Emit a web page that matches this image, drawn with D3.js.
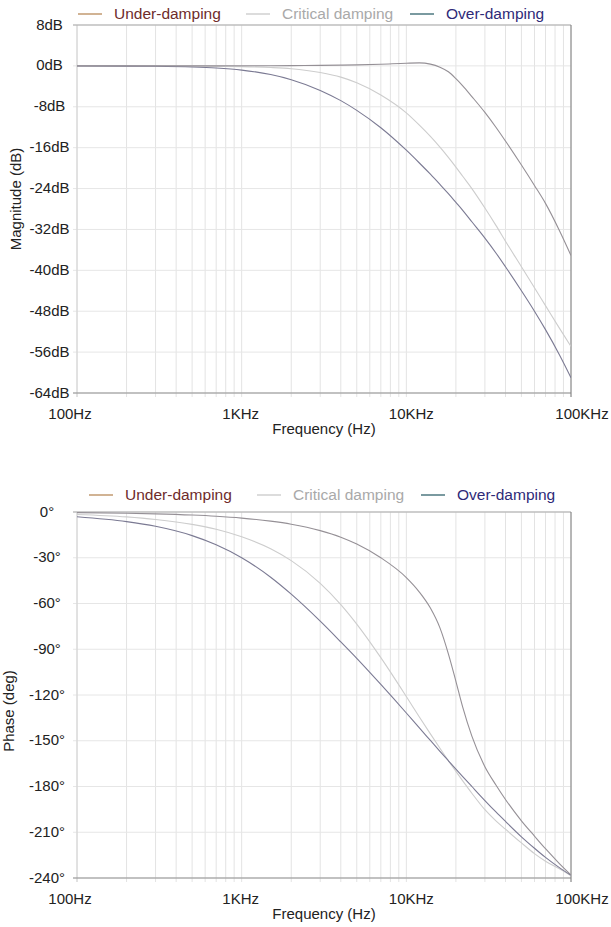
<!DOCTYPE html>
<meta charset="utf-8">
<script src="https://d3js.org/d3.v7.min.js"></script>
<style>
  body { margin: 0; background: #fff; }
  svg text { font-family: "Liberation Sans", Arial, sans-serif; }
</style>
<div id="bode"></div>
<script>
  var freqs = [100, 200, 300, 500, 700, 1000, 1500, 2000, 3000, 4000, 5000, 7000, 10000, 12000,
    14000, 16000, 18000, 20000, 22000, 25000, 30000, 35000, 40000, 50000, 60000, 70000, 85000, 100000];

  // magnitude (dB)
  var magUnder = [0, 0, 0, 0, 0.01, 0.02, 0.04, 0.06, 0.1, 0.15, 0.2, 0.33, 0.52, 0.58,
    0.35, -0.25, -1.15, -2.5, -3.9, -6.0, -9.1, -12.0, -14.7, -19.4, -23.4, -26.9, -32.2, -37.1];
  var magCritical = [0, -0.01, -0.01, -0.03, -0.07, -0.14, -0.32, -0.56, -1.3, -2.2, -3.3, -5.7, -9.2, -11.6,
    -13.8, -15.9, -17.9, -19.8, -21.6, -24.0, -27.8, -31.2, -34.3, -39.3, -43.4, -46.9, -51.3, -54.9];
  var magOver = [-0.01, -0.04, -0.08, -0.22, -0.42, -0.82, -1.7, -2.7, -4.8, -6.8, -8.7, -12.1, -16.5, -19.0,
    -21.2, -23.2, -25.0, -26.7, -28.25, -30.5, -33.7, -36.6, -39.3, -44.0, -48.0, -51.6, -56.5, -61.0];

  // phase (deg)
  var phaseUnder = [-0.4, -0.8, -1.2, -2.0, -2.8, -4.0, -6.0, -8.0, -12.2, -16.5, -21, -30, -43, -52.5,
    -63, -76, -93, -111, -128, -147, -167, -179, -188.5, -202.5, -212.5, -220.8, -230.5, -238];
  var phaseCritical = [-1.6, -3.2, -4.9, -8.1, -11.3, -16.2, -24.1, -31.9, -46.8, -60.7, -73.5, -95.5, -121, -134.4,
    -145.5, -154.9, -163.1, -170.1, -176.3, -184.4, -195.2, -202.5, -208, -217, -224, -229, -234, -238.5];
  var phaseOver = [-3.1, -6.3, -9.4, -15.5, -21.5, -30, -42.8, -53.9, -71.6, -85.2, -96, -113.1, -131.8, -141.6,
    -149.8, -156.9, -163.1, -168.6, -173.5, -180, -189.2, -196.7, -202.9, -213, -220.5, -226.5, -233.2, -238.2];

  var seriesNames = ["Under-damping", "Critical damping", "Over-damping"];
  var magTicks = [8, 0, -8, -16, -24, -32, -40, -48, -56, -64];
  var phaseTicks = [0, -30, -60, -90, -120, -150, -180, -210, -240];
  var freqTicks = [100, 1000, 10000, 100000];
  var freqTickLabels = ["100Hz", "1KHz", "10KHz", "100KHz"];

  var legendLineColors = ["#c29a70", "#d0d0d0", "#4e7880"];
  var legendTextColors = ["#6e2b2b", "#a9a9a9", "#2e2a78"];
  var curveColors = ["#959096", "#cdcdcd", "#7b7a93"];

  var W = 611, H = 927;
  var plotLeft = 77, plotRight = 571;

  var svg = d3.select("#bode")
    .append("svg")
    .attr("width", W)
    .attr("height", H);

  var x = d3.scaleLog()
    .domain([100, 100000])
    .range([plotLeft, plotRight]);

  // the tick labels sit on a slightly wider span than the grid
  var xLabel = d3.scaleLog()
    .domain([100, 100000])
    .range([70, 582]);

  function drawPanel(opts) {
    var y = d3.scaleLinear()
      .domain([opts.ticks[opts.ticks.length - 1], opts.ticks[0]])
      .range([opts.bottom, opts.top]);

    var g = svg.append("g");

    // vertical grid
    g.append("g")
      .selectAll("line")
      .data(x.ticks())
      .enter()
      .append("line")
      .attr("x1", function (d) { return x(d); })
      .attr("x2", function (d) { return x(d); })
      .attr("y1", opts.top)
      .attr("y2", opts.bottom + 4)
      .style("stroke", "#e3e3e3")
      .style("stroke-width", 1);

    // horizontal grid
    g.append("g")
      .selectAll("line")
      .data(opts.ticks)
      .enter()
      .append("line")
      .attr("x1", plotLeft - 4)
      .attr("x2", plotRight)
      .attr("y1", function (d) { return y(d); })
      .attr("y2", function (d) { return y(d); })
      .style("stroke", "#e6e6e6")
      .style("stroke-width", 1);

    // frame
    g.append("line")
      .attr("x1", plotLeft).attr("x2", plotLeft)
      .attr("y1", opts.top).attr("y2", opts.bottom + 4)
      .style("stroke", "#d2d2d2");
    g.append("line")
      .attr("x1", plotLeft - 4).attr("x2", plotRight)
      .attr("y1", opts.top).attr("y2", opts.top)
      .style("stroke", "#a9a9a9");
    g.append("line")
      .attr("x1", plotLeft - 4).attr("x2", plotRight)
      .attr("y1", opts.bottom).attr("y2", opts.bottom)
      .style("stroke", "#8f8f8f");
    g.append("line")
      .attr("x1", plotRight).attr("x2", plotRight)
      .attr("y1", opts.top).attr("y2", opts.bottom + 4)
      .style("stroke", "#7d7d7d");

    // y tick labels
    g.append("g")
      .selectAll("text")
      .data(opts.ticks)
      .enter()
      .append("text")
      .attr("x", opts.labelX)
      .attr("y", function (d) { return y(d) - 1; })
      .attr("text-anchor", "middle")
      .attr("dominant-baseline", "central")
      .style("font-size", "15px")
      .style("fill", "#222")
      .text(function (d) { return d + opts.unit; });

    // x tick labels
    g.append("g")
      .selectAll("text")
      .data(freqTicks)
      .enter()
      .append("text")
      .attr("x", function (d) { return xLabel(d); })
      .attr("y", opts.bottom + 20)
      .attr("text-anchor", "middle")
      .attr("dominant-baseline", "central")
      .style("font-size", "15px")
      .style("fill", "#222")
      .text(function (d, i) { return freqTickLabels[i]; });

    // axis titles
    g.append("text")
      .attr("x", 324)
      .attr("y", opts.bottom + 35)
      .attr("text-anchor", "middle")
      .attr("dominant-baseline", "central")
      .style("font-size", "15px")
      .style("fill", "#222")
      .text("Frequency (Hz)");

    g.append("text")
      .attr("transform", "translate(" + opts.titleX + "," + opts.titleY + ") rotate(-90)")
      .attr("text-anchor", "middle")
      .attr("dominant-baseline", "central")
      .style("font-size", "15px")
      .style("fill", "#222")
      .text(opts.title);

    // curves
    var clipId = "clip" + opts.top;
    svg.append("clipPath")
      .attr("id", clipId)
      .append("rect")
      .attr("x", plotLeft)
      .attr("y", opts.top - 2)
      .attr("width", plotRight - plotLeft)
      .attr("height", opts.bottom - opts.top + 4);

    var line = d3.line()
      .x(function (d) { return x(d[0]); })
      .y(function (d) { return y(d[1]); })
      .curve(d3.curveMonotoneX);

    var order = [1, 2, 0];
    order.forEach(function (k) {
      var pts = freqs.map(function (f, i) { return [f, opts.series[k][i]]; });
      g.append("path")
        .datum(pts)
        .attr("clip-path", "url(#" + clipId + ")")
        .attr("d", line)
        .style("fill", "none")
        .style("stroke", curveColors[k])
        .style("stroke-width", 1.1);
    });

    // legend: line then label, one entry per series
    seriesNames.forEach(function (name, i) {
      var lx = opts.legendX[i];
      g.append("line")
        .attr("x1", lx).attr("x2", lx + 24)
        .attr("y1", opts.legendY + 1).attr("y2", opts.legendY + 1)
        .style("stroke", legendLineColors[i])
        .style("stroke-width", 1.5);
      g.append("text")
        .attr("x", lx + 36)
        .attr("y", opts.legendY)
        .attr("dominant-baseline", "central")
        .style("font-size", "15.5px")
        .style("fill", legendTextColors[i])
        .text(name);
    });
  }

  drawPanel({
    top: 25, bottom: 393,
    ticks: magTicks, unit: "dB", labelX: 49.5,
    series: [magUnder, magCritical, magOver],
    title: "Magnitude (dB)", titleX: 15, titleY: 199,
    legendX: [78, 246, 410], legendY: 13
  });

  drawPanel({
    top: 512, bottom: 878,
    ticks: phaseTicks, unit: "°", labelX: 47,
    series: [phaseUnder, phaseCritical, phaseOver],
    title: "Phase (deg)", titleX: 8, titleY: 711,
    legendX: [89, 257, 421], legendY: 494
  });
</script>
